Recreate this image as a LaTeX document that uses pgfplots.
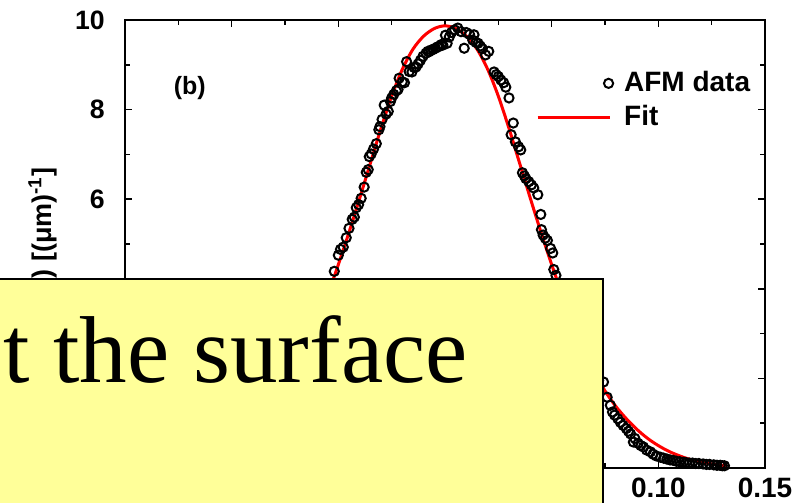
\documentclass[border=0pt]{standalone}
\usepackage{pgfplots}
\pgfplotsset{compat=1.18}
\usepackage{fontspec}
\setmainfont{Liberation Sans}
\newfontfamily\timesfont{Liberation Serif}
\definecolor{noteyellow}{RGB}{255,255,153}
\pgfplotsset{
  mydata legend/.style={legend image code/.code={\draw[##1] plot coordinates {(35.5pt,0pt)};}},
  myfit legend/.style={legend image code/.code={\draw[##1] (0pt,0pt) -- (36pt,0pt);}},
}
\begin{document}
\begin{tikzpicture}
\useasboundingbox (0,0) rectangle (405pt,251.5pt);
\clip (0,0) rectangle (405pt,251.5pt);
\begin{axis}[
  at={(62.5pt,17.5pt)}, anchor=south west,
  scale only axis, width=320pt, height=224pt,
  xmin=-0.15, xmax=0.15, ymin=0, ymax=10,
  xtick={-0.15,-0.1,-0.05,0,0.05,0.1,0.15},
  xticklabels={,,,,,0.10,0.15},
  minor xtick={-0.125,-0.075,-0.025,0.025,0.075,0.125},
  ytick={0,2,4,6,8,10}, yticklabels={,,,6,8,10},
  minor ytick={1,3,5,7,9},
  tick align=inside, major tick length=3.5pt, minor tick length=2.5pt,
  axis line style={line width=1pt},
  every tick/.style={black, line width=0.75pt},
  xticklabel style={font=\bfseries\fontsize{14}{16}\selectfont, inner sep=0pt, yshift=-5pt},
  yticklabel style={font=\bfseries\fontsize{13.3}{15}\selectfont, inner sep=0pt, xshift=-10pt},
  ylabel={P(k) [(μm)\textsuperscript{-1}]},
  ylabel style={font=\bfseries\fontsize{13.5}{15}\selectfont, at={(axis description cs:-0.1050,0.5)}, anchor=south, inner sep=0pt},
  legend style={at={(axis cs:0.0425,8.21)}, anchor=west, draw=none, fill=none,
    inner sep=0pt, row sep=5.2pt, column sep=5.5pt,
    font=\bfseries\fontsize{14}{16}\selectfont, nodes={inner sep=0pt}},
  legend cell align=left,
]
\addplot[only marks, mark=o, mark size=2.3pt, black, line width=1pt, mydata legend]
  table[row sep=\\] {
x y \\
-0.132 0.04 \\ -0.130 0.05 \\ -0.128 0.05 \\ -0.126 0.06 \\ -0.124 0.07 \\
-0.122 0.08 \\ -0.120 0.09 \\ -0.118 0.10 \\ -0.116 0.12 \\ -0.114 0.13 \\
-0.112 0.15 \\ -0.110 0.17 \\ -0.108 0.20 \\ -0.106 0.23 \\ -0.104 0.27 \\
-0.102 0.31 \\ -0.100 0.36 \\ -0.098 0.41 \\ -0.096 0.47 \\ -0.094 0.53 \\
-0.092 0.61 \\ -0.090 0.70 \\ -0.088 0.79 \\ -0.086 0.90 \\ -0.084 1.01 \\
-0.082 1.14 \\ -0.080 1.28 \\ -0.078 1.44 \\ -0.076 1.61 \\ -0.074 1.80 \\
-0.072 1.99 \\ -0.070 2.18 \\ -0.068 2.40 \\ -0.066 2.62 \\ -0.064 2.86 \\
-0.062 3.10 \\ -0.060 3.34 \\ -0.058 3.58 \\ -0.056 3.84 \\ -0.054 4.10 \\
-0.0519 4.39 \\ -0.0500 4.75 \\ -0.0490 4.88 \\ -0.0477 4.93 \\ -0.0463 5.14 \\
-0.0450 5.35 \\ -0.0435 5.55 \\ -0.0425 5.60 \\ -0.0416 5.81 \\ -0.0405 5.88 \\
-0.0393 6.02 \\ -0.0379 6.27 \\ -0.0369 6.60 \\ -0.0360 6.66 \\ -0.0355 6.95 \\
-0.0346 7.01 \\ -0.0335 7.12 \\ -0.0322 7.24 \\ -0.0310 7.55 \\ -0.0305 7.62 \\
-0.0295 7.78 \\ -0.0285 8.10 \\ -0.0276 7.90 \\ -0.0266 7.96 \\ -0.0256 8.18 \\
-0.0250 8.26 \\ -0.0240 8.34 \\ -0.0228 8.42 \\ -0.0220 8.45 \\ -0.0215 8.70 \\
-0.0200 8.62 \\ -0.0190 8.60 \\ -0.0180 9.07 \\ -0.0168 8.85 \\ -0.0155 8.84 \\
-0.0145 8.94 \\ -0.0136 8.95 \\ -0.0126 9.02 \\ -0.0115 9.10 \\ -0.0103 9.19 \\
-0.0089 9.26 \\ -0.0080 9.30 \\ -0.0075 9.29 \\ -0.0065 9.33 \\ -0.0056 9.34 \\
-0.0045 9.37 \\ -0.0035 9.40 \\ -0.0028 9.41 \\ -0.0018 9.45 \\ -0.0010 9.44 \\
0.0002 9.66 \\ 0.0010 9.48 \\ 0.0020 9.62 \\ 0.0030 9.72 \\ 0.0045 9.78 \\
0.0060 9.82 \\ 0.0075 9.74 \\ 0.0090 9.37 \\ 0.0100 9.72 \\ 0.0115 9.68 \\
0.0130 9.55 \\ 0.0136 9.67 \\ 0.0145 9.50 \\ 0.0155 9.48 \\ 0.0165 9.42 \\
0.0175 9.36 \\ 0.0190 9.22 \\ 0.0205 9.30 \\ 0.0230 8.84 \\ 0.0240 8.78 \\
0.0250 8.74 \\ 0.0262 8.66 \\ 0.0275 8.60 \\ 0.0285 8.50 \\ 0.0300 8.26 \\
0.0310 7.44 \\ 0.0320 7.70 \\ 0.0330 7.28 \\ 0.0345 7.17 \\ 0.0355 7.10 \\
0.0363 6.59 \\ 0.0372 6.52 \\ 0.0379 6.46 \\ 0.0393 6.39 \\ 0.0405 6.32 \\
0.0416 6.25 \\ 0.0435 6.10 \\ 0.0449 5.66 \\ 0.0452 5.32 \\ 0.0460 5.20 \\
0.0470 5.13 \\ 0.0480 5.08 \\ 0.0495 4.90 \\ 0.0505 4.80 \\ 0.0510 4.43 \\
0.0520 4.30 \\ 0.0540 4.00 \\ 0.0555 3.72 \\ 0.0570 3.45 \\ 0.0585 3.20 \\
0.0600 2.96 \\ 0.0615 2.78 \\ 0.0630 2.60 \\ 0.0645 2.45 \\ 0.0660 2.30 \\
0.0675 2.18 \\ 0.0690 2.08 \\ 0.0705 2.00 \\ 0.0720 1.96 \\ 0.0743 1.92 \\
0.0760 1.58 \\ 0.0775 1.40 \\ 0.0785 1.25 \\ 0.0795 1.18 \\ 0.0810 1.10 \\
0.0822 1.02 \\ 0.0835 0.95 \\ 0.0850 0.88 \\ 0.0860 0.82 \\ 0.0870 0.76 \\
0.0883 0.58 \\ 0.0890 0.66 \\ 0.0905 0.55 \\ 0.0918 0.50 \\ 0.0930 0.47 \\
0.0945 0.40 \\ 0.0963 0.36 \\ 0.0975 0.31 \\ 0.0990 0.27 \\ 0.1010 0.24 \\
0.1025 0.22 \\ 0.1040 0.20 \\ 0.1055 0.18 \\ 0.1070 0.17 \\ 0.1085 0.15 \\
0.1100 0.14 \\ 0.1117 0.13 \\ 0.1130 0.12 \\ 0.1145 0.11 \\ 0.1160 0.11 \\
0.1175 0.10 \\ 0.1190 0.10 \\ 0.1210 0.09 \\ 0.1225 0.08 \\ 0.1240 0.08 \\
0.1260 0.07 \\ 0.1275 0.06 \\ 0.1290 0.06 \\ 0.1300 0.05 \\ 0.1310 0.05 \\
};
\addlegendentry{AFM data}
\addplot[red, line width=1.5pt, smooth, no marks, myfit legend]
  table[row sep=\\] {
x y \\
-0.132 0.05 \\ -0.130 0.06 \\ -0.125 0.09 \\ -0.120 0.13 \\ -0.115 0.19 \\
-0.110 0.27 \\ -0.105 0.37 \\ -0.100 0.50 \\ -0.095 0.66 \\ -0.090 0.86 \\
-0.085 1.10 \\ -0.080 1.38 \\ -0.075 1.72 \\ -0.070 2.14 \\ -0.065 2.64 \\
-0.060 3.22 \\ -0.055 3.86 \\ -0.050 4.54 \\ -0.045 5.26 \\ -0.040 6.02 \\
-0.035 6.80 \\ -0.030 7.58 \\ -0.025 8.30 \\ -0.020 8.90 \\ -0.015 9.35 \\
-0.010 9.64 \\ -0.005 9.81 \\ 0.000 9.87 \\ 0.005 9.81 \\ 0.010 9.64 \\
0.015 9.35 \\ 0.020 8.90 \\ 0.025 8.30 \\ 0.030 7.58 \\ 0.035 6.80 \\
0.040 6.02 \\ 0.045 5.26 \\ 0.050 4.54 \\ 0.055 3.86 \\ 0.060 3.22 \\
0.065 2.64 \\ 0.070 2.14 \\ 0.075 1.72 \\ 0.080 1.38 \\ 0.085 1.10 \\
0.090 0.86 \\ 0.095 0.66 \\ 0.100 0.50 \\ 0.105 0.37 \\ 0.110 0.27 \\
0.115 0.19 \\ 0.120 0.13 \\ 0.125 0.09 \\ 0.130 0.06 \\ 0.132 0.05 \\
};
\addlegendentry{Fit}
\node[font=\bfseries\fontsize{12.5}{14}\selectfont] at (axis cs:-0.1196,8.49) {(b)};
\end{axis}
\fill[noteyellow, draw=black, line width=1pt] (-5pt,-5pt) rectangle (301.5pt,112pt);
\node[anchor=base west, inner sep=0pt, font=\timesfont\fontsize{47.5}{50}\selectfont] at (1.5pt,60pt) {t the surface};
\end{tikzpicture}
\end{document}
